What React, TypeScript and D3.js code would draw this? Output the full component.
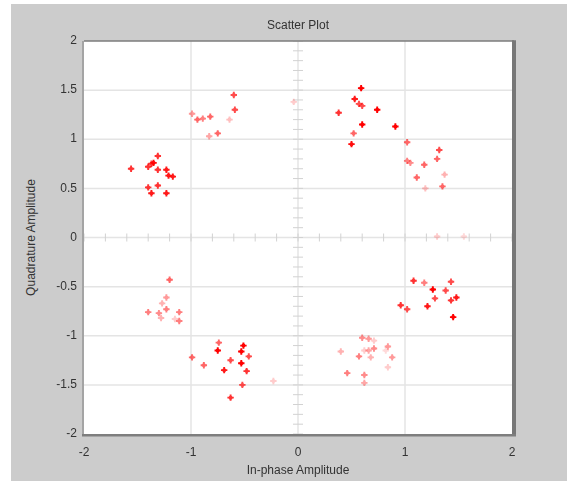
import React from "react";
import * as d3 from "d3";

// received symbols, with their fade level
const inphase = [
  -1.31, -1.35, -1.37, -1.4, -1.56, -1.31, -1.23, -1.21, -1.17, -1.4, -1.31, -1.37, -1.23,
  -0.6, -0.59, -0.99, -0.94, -0.89, -0.82, -0.64, -0.83, -0.75,
  0.59, 0.53, 0.57, 0.6, 0.38, 0.74, 0.6, 0.91, 0.52, 0.5,
  1.02, 1.32, 1.02, 1.05, 1.3, 1.18, 1.11, 1.37, 1.19, 1.35,
  1.3, 1.55, -0.04,
  -1.2, -1.23, -1.27, -1.23, -1.4, -1.3, -1.28, -1.11, -1.15, -1.11,
  -0.74, -0.51, -0.75, -0.53, -0.46, -0.99, -0.63, -0.88, -0.53, -0.69, -0.48, -0.52, -0.23, -0.63,
  0.6, 0.66, 0.71, 0.84, 0.71, 0.66, 0.62, 0.4, 0.57, 0.68, 0.88, 0.82, 0.84, 0.46, 0.62, 0.62,
  1.08, 1.18, 1.43, 1.26, 1.38, 1.28, 1.43, 1.48, 1.21, 0.96, 1.02, 1.45,
];
const quadrature = [
  0.83, 0.76, 0.75, 0.72, 0.7, 0.69, 0.69, 0.63, 0.62, 0.51, 0.53, 0.45, 0.45,
  1.45, 1.3, 1.26, 1.2, 1.21, 1.23, 1.2, 1.03, 1.06,
  1.52, 1.41, 1.36, 1.34, 1.27, 1.3, 1.15, 1.13, 1.06, 0.95,
  0.97, 0.89, 0.78, 0.76, 0.8, 0.74, 0.61, 0.64, 0.5, 0.52,
  0.01, 0.01, 1.38,
  -0.43, -0.61, -0.67, -0.73, -0.76, -0.77, -0.82, -0.76, -0.83, -0.85,
  -1.07, -1.1, -1.15, -1.16, -1.21, -1.22, -1.25, -1.3, -1.28, -1.35, -1.36, -1.5, -1.46, -1.63,
  -1.02, -1.03, -1.05, -1.11, -1.13, -1.15, -1.15, -1.16, -1.21, -1.22, -1.22, -1.15, -1.32, -1.38, -1.4, -1.48,
  -0.44, -0.46, -0.45, -0.53, -0.54, -0.62, -0.64, -0.61, -0.7, -0.69, -0.73, -0.81,
];
const fade = [
  0.8, 0.95, 0.8, 0.8, 0.8, 0.8, 0.9, 0.9, 0.9, 0.8, 0.8, 0.9, 0.9,
  0.7, 0.7, 0.4, 0.6, 0.5, 0.6, 0.25, 0.35, 0.6,
  1, 0.9, 0.7, 0.7, 0.8, 1, 1, 1, 0.6, 0.95,
  0.6, 0.7, 0.5, 0.45, 0.6, 0.6, 0.6, 0.3, 0.25, 0.6,
  0.2, 0.15, 0.2,
  0.6, 0.4, 0.3, 0.5, 0.5, 0.45, 0.3, 0.5, 0.2, 0.5,
  0.6, 1, 1, 1, 0.7, 0.6, 0.7, 0.6, 1, 0.9, 0.8, 0.7, 0.2, 0.8,
  0.45, 0.4, 0.2, 0.4, 0.45, 0.35, 0.2, 0.3, 0.5, 0.3, 0.4, 0.15, 0.2, 0.5, 0.45, 0.35,
  0.8, 0.5, 0.7, 1, 0.7, 0.7, 0.8, 0.9, 0.9, 0.8, 0.7, 1,
];

const xTicks = [-2, -1, 0, 1, 2];
const yTicks = [-2, -1.5, -1, -0.5, 0, 0.5, 1, 1.5, 2];

const W = 567;
const H = 481;
const font = "'Liberation Sans', Arial, sans-serif";

export default function App() {
  const x = d3.scaleLinear().domain([-2, 2]).range([84, 512]);
  const y = d3.scaleLinear().domain([-2, 2]).range([434, 41]);

  const xMinor = d3.range(-20, 21, 2).map((v) => v / 10);
  const yMinor = d3.range(-20, 21, 1).map((v) => v / 10);

  return (
    <div style={{ position: "absolute", left: 0, top: 0 }}>
      <svg width={W} height={H} style={{ display: "block" }}>
        <defs>
          <filter id="soft" x="-50%" y="-50%" width="200%" height="200%">
            <feGaussianBlur stdDeviation="0.6" />
          </filter>
        </defs>
        <rect width={W} height={H} fill="#fff" />
        <rect x={11} y={4} width={W - 11} height={H - 4} fill="#cccccc" />

        {/* plot area */}
        <rect x={x(-2)} y={y(2)} width={x(2) - x(-2)} height={y(-2) - y(2)} fill="#fff" />

        {/* grid */}
        <g stroke="#e4e4e4" strokeWidth={1.5}>
          {[-1, 1].map((t) => (
            <line key={"gx" + t} x1={x(t)} x2={x(t)} y1={y(2)} y2={y(-2)} />
          ))}
          {[-1.5, -1, -0.5, 0.5, 1, 1.5].map((t) => (
            <line key={"gy" + t} x1={x(-2)} x2={x(2)} y1={y(t)} y2={y(t)} />
          ))}
          <line x1={x(0)} x2={x(0)} y1={y(2)} y2={y(-2)} />
          <line x1={x(-2)} x2={x(2)} y1={y(0)} y2={y(0)} />
        </g>

        {/* ticks on the crossing axes */}
        <g stroke="#d2d2d2" strokeWidth={1}>
          {xMinor.map((t) => (
            <line key={"tx" + t} x1={x(t)} x2={x(t)} y1={y(0) - 4} y2={y(0) + 4} />
          ))}
          {yMinor.map((t) => (
            <line key={"ty" + t} x1={x(0) - 5} x2={x(0) + 5} y1={y(t)} y2={y(t)} />
          ))}
        </g>

        {/* points */}
        <g filter="url(#soft)">
          {inphase.map((v, i) => (
            <g
              key={i}
              transform={`translate(${x(v)},${y(quadrature[i])})`}
              opacity={fade[i]}
            >
              <path d="M-3.2,0H3.2M0,-3.2V3.2" stroke="#ff0000" strokeWidth={1.9} />
              <circle r={2} fill="#ff0000" />
            </g>
          ))}
        </g>

        {/* frame */}
        <line x1={x(-2)} x2={x(2) + 2} y1={y(2)} y2={y(2)} stroke="#7c7c7c" strokeWidth={1.6} />
        <line x1={x(-2) - 1} x2={x(-2) - 1} y1={y(2)} y2={y(-2) + 1} stroke="#a4a4a4" strokeWidth={2} />
        <line x1={x(2) + 2} x2={x(2) + 2} y1={y(2) - 0.8} y2={y(-2) + 2} stroke="#777" strokeWidth={4} />
        <line x1={x(-2) - 2} x2={x(2) + 4} y1={y(-2) + 1.2} y2={y(-2) + 1.2} stroke="#7e7e7e" strokeWidth={2.4} />

        {/* tick labels */}
        <g fontFamily={font} fontSize={12} fill="#333">
          {yTicks.map((t) => (
            <text key={"ly" + t} x={77} y={y(t)} textAnchor="end" dominantBaseline="middle">
              {t}
            </text>
          ))}
          {xTicks.map((t) => (
            <text key={"lx" + t} x={x(t)} y={456} textAnchor="middle">
              {t}
            </text>
          ))}
          <text x={298} y={29} textAnchor="middle">
            Scatter Plot
          </text>
          <text x={298} y={474} textAnchor="middle">
            In-phase Amplitude
          </text>
          <text
            transform={`translate(35,${y(0)}) rotate(-90)`}
            textAnchor="middle"
          >
            Quadrature Amplitude
          </text>
        </g>
      </svg>
    </div>
  );
}
